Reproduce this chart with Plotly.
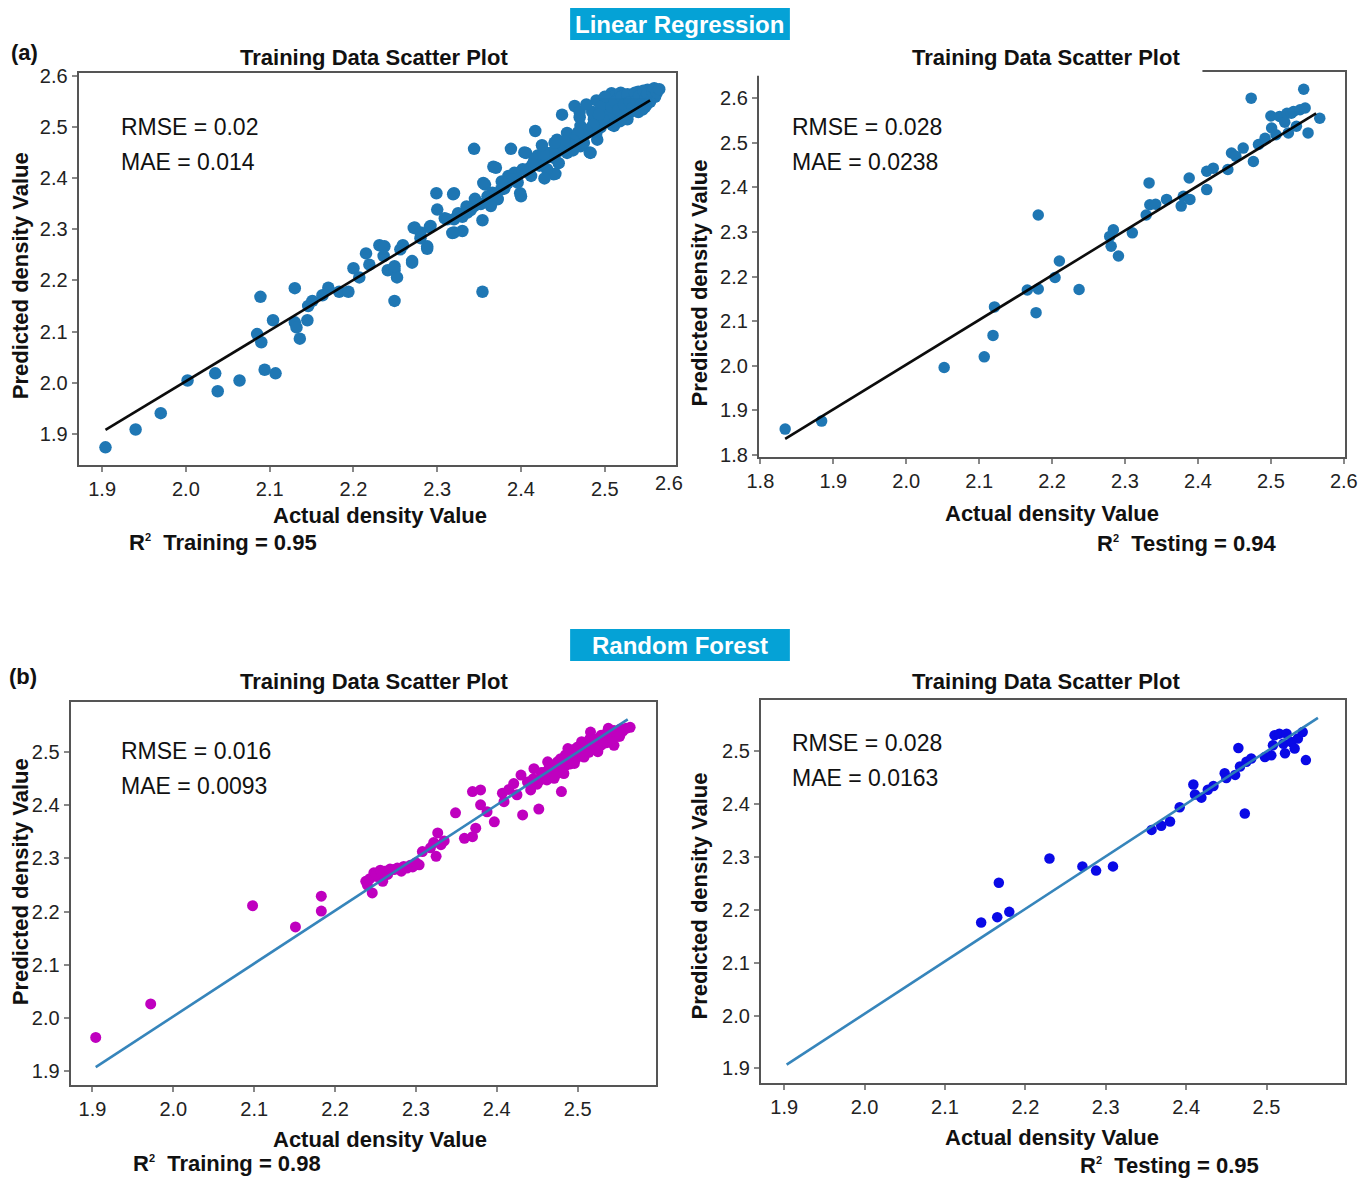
import plotly.graph_objects as go

W, H = 1358, 1178

# ---------------- data ----------------
lr_train_x = [1.904, 1.940, 1.970, 2.002, 2.035, 2.038, 2.064, 2.089, 2.085, 2.090, 2.094, 2.107, 2.104,
              2.130, 2.130, 2.132, 2.136, 2.145, 2.146, 2.151, 2.163, 2.170, 2.183, 2.194, 2.200, 2.207,
              2.215, 2.219, 2.231, 2.236, 2.241, 2.249, 2.252, 2.249, 2.259, 2.270, 2.273, 2.280, 2.288,
              2.291, 2.299, 2.300, 2.309, 2.320, 2.320, 2.330, 2.325, 2.344, 2.354, 2.354, 2.357, 2.367,
              2.372, 2.388, 2.399, 2.404, 2.417, 2.441, 2.449, 2.464, 2.482, 2.490, 2.508, 2.551,
              2.319, 2.370, 2.355, 2.406, 2.420, 2.400, 2.439, 2.483, 2.511, 2.519, 2.553, 2.539, 2.272,
              2.270, 2.237, 2.249, 2.292, 2.318, 2.288, 2.320, 2.344, 2.372, 2.384, 2.392, 2.416, 2.431,
              2.443, 2.455, 2.471, 2.487, 2.503, 2.519, 2.535, 2.547, 2.491, 2.511, 2.527, 2.471, 2.455,
              2.431, 2.412, 2.376, 2.364, 2.336, 2.312, 2.280, 2.256,
              2.500, 2.515, 2.530, 2.540, 2.545, 2.555, 2.560, 2.525, 2.505, 2.495, 2.480, 2.465, 2.460,
              2.450, 2.440, 2.425, 2.410, 2.395, 2.385, 2.380, 2.360, 2.345, 2.335, 2.500, 2.520, 2.535,
              2.550, 2.560, 2.512, 2.475, 2.470, 2.485, 2.495, 2.445, 2.428, 2.462, 2.490, 2.530, 2.545,
              2.505, 2.508, 2.512, 2.516, 2.520, 2.523, 2.527, 2.530, 2.533, 2.536, 2.538, 2.541, 2.543,
              2.546, 2.549, 2.551, 2.554, 2.557, 2.559, 2.562, 2.548, 2.540, 2.527, 2.518, 2.509, 2.498,
              2.493, 2.486, 2.478, 2.474, 2.468, 2.462, 2.457, 2.452, 2.447, 2.438, 2.433, 2.427, 2.422,
              2.414, 2.408, 2.402, 2.396, 2.390, 2.382, 2.377, 2.366, 2.352, 2.340, 2.330, 2.565, 2.470,
              2.478, 2.440, 2.425]
lr_train_y = [1.873, 1.908, 1.940, 2.004, 2.018, 1.983, 2.004, 2.168, 2.095, 2.079, 2.025, 2.018, 2.122,
              2.185, 2.118, 2.108, 2.086, 2.122, 2.150, 2.160, 2.171, 2.186, 2.178, 2.178, 2.224, 2.206,
              2.253, 2.231, 2.269, 2.248, 2.220, 2.220, 2.206, 2.160, 2.269, 2.238, 2.304, 2.283, 2.262,
              2.304, 2.371, 2.339, 2.322, 2.371, 2.294, 2.297, 2.332, 2.458, 2.178, 2.318, 2.388, 2.423,
              2.360, 2.458, 2.371, 2.451, 2.493, 2.409, 2.525, 2.542, 2.451, 2.553, 2.567, 2.574,
              2.369, 2.421, 2.391, 2.450, 2.445, 2.365, 2.408, 2.450, 2.561, 2.568, 2.573, 2.535, 2.303,
              2.235, 2.267, 2.228, 2.307, 2.293, 2.267, 2.320, 2.346, 2.359, 2.391, 2.411, 2.437, 2.450,
              2.476, 2.489, 2.503, 2.516, 2.529, 2.542, 2.555, 2.561, 2.476, 2.503, 2.516, 2.463, 2.450,
              2.418, 2.405, 2.378, 2.346, 2.333, 2.320, 2.294, 2.261,
              2.545, 2.555, 2.560, 2.570, 2.550, 2.565, 2.575, 2.548, 2.510, 2.500, 2.490, 2.480, 2.470,
              2.460, 2.440, 2.430, 2.420, 2.400, 2.405, 2.380, 2.365, 2.360, 2.345, 2.560, 2.530, 2.540,
              2.545, 2.560, 2.520, 2.470, 2.520, 2.530, 2.540, 2.430, 2.400, 2.455, 2.490, 2.530, 2.535,
              2.525, 2.540, 2.550, 2.535, 2.560, 2.545, 2.565, 2.550, 2.538, 2.568, 2.552, 2.562, 2.545,
              2.572, 2.558, 2.566, 2.550, 2.570, 2.577, 2.568, 2.540, 2.530, 2.525, 2.512, 2.505, 2.515,
              2.525, 2.505, 2.495, 2.485, 2.490, 2.475, 2.468, 2.472, 2.455, 2.452, 2.442, 2.448, 2.425,
              2.428, 2.412, 2.418, 2.392, 2.398, 2.388, 2.394, 2.372, 2.350, 2.338, 2.325, 2.575, 2.530,
              2.545, 2.470, 2.465]
lr_train_line_x = [1.904, 2.554]
lr_train_line_y = [1.907, 2.553]

lr_test_x = [1.834, 1.884, 2.052, 2.107, 2.119, 2.121, 2.166, 2.178, 2.181, 2.181, 2.204, 2.210, 2.237,
             2.279, 2.281, 2.284, 2.291, 2.310, 2.329, 2.333, 2.334, 2.342, 2.357, 2.377, 2.380, 2.388,
             2.389, 2.412, 2.412, 2.421, 2.441, 2.446, 2.452, 2.462, 2.473, 2.476, 2.483, 2.492, 2.500,
             2.501, 2.507, 2.512, 2.519, 2.522, 2.524, 2.528, 2.531, 2.535, 2.540, 2.545, 2.547, 2.551,
             2.567]
lr_test_y = [1.858, 1.876, 1.996, 2.020, 2.068, 2.132, 2.170, 2.119, 2.172, 2.338, 2.198, 2.235, 2.171,
             2.290, 2.268, 2.305, 2.246, 2.298, 2.338, 2.410, 2.361, 2.362, 2.373, 2.358, 2.380, 2.421,
             2.373, 2.395, 2.436, 2.443, 2.440, 2.477, 2.470, 2.488, 2.600, 2.458, 2.496, 2.510, 2.560,
             2.533, 2.518, 2.559, 2.546, 2.566, 2.522, 2.566, 2.570, 2.537, 2.574, 2.620, 2.578, 2.522,
             2.555]
lr_test_line_x = [1.834, 2.562]
lr_test_line_y = [1.836, 2.566]

rf_train_x = [1.904, 1.972, 2.098, 2.151, 2.183, 2.183, 2.238, 2.246, 2.248, 2.259, 2.261, 2.254, 2.273,
              2.289, 2.304, 2.308, 2.325, 2.327, 2.331, 2.349, 2.360, 2.370, 2.374, 2.370, 2.380, 2.380,
              2.388, 2.397, 2.407, 2.409, 2.421, 2.430, 2.432, 2.438, 2.442, 2.446, 2.452, 2.454, 2.463,
              2.467, 2.471, 2.479, 2.480, 2.483, 2.488, 2.496, 2.496, 2.508, 2.512, 2.516, 2.525, 2.529,
              2.541, 2.545, 2.545, 2.553, 2.565,
              2.240, 2.252, 2.265, 2.282, 2.296, 2.318, 2.322, 2.335, 2.415, 2.425, 2.458, 2.475, 2.490,
              2.500, 2.505, 2.520, 2.535, 2.538, 2.550, 2.530, 2.518, 2.485,
              2.445, 2.450, 2.457, 2.462, 2.466, 2.470, 2.474, 2.478, 2.482, 2.487, 2.491, 2.494, 2.498,
              2.502, 2.506, 2.510, 2.514, 2.517, 2.522, 2.525, 2.528, 2.532, 2.536, 2.540, 2.543, 2.548,
              2.552, 2.556, 2.560, 2.515, 2.505, 2.495, 2.485, 2.475, 2.465, 2.455,
              2.243, 2.250, 2.256, 2.268, 2.277, 2.285, 2.293, 2.300]
rf_train_y = [1.963, 2.026, 2.211, 2.171, 2.229, 2.201, 2.257, 2.235, 2.273, 2.257, 2.276, 2.274, 2.279,
              2.282, 2.288, 2.313, 2.304, 2.348, 2.326, 2.386, 2.338, 2.341, 2.357, 2.426, 2.429, 2.401,
              2.388, 2.369, 2.423, 2.407, 2.441, 2.457, 2.382, 2.444, 2.429, 2.469, 2.393, 2.448, 2.482,
              2.476, 2.451, 2.488, 2.426, 2.460, 2.507, 2.501, 2.479, 2.491, 2.519, 2.538, 2.501, 2.532,
              2.522, 2.541, 2.513, 2.544, 2.547,
              2.250, 2.266, 2.270, 2.276, 2.284, 2.320, 2.330, 2.333, 2.430, 2.420, 2.462, 2.470, 2.492,
              2.510, 2.520, 2.525, 2.535, 2.545, 2.530, 2.515, 2.505, 2.475,
              2.450, 2.440, 2.455, 2.448, 2.462, 2.465, 2.460, 2.475, 2.470, 2.483, 2.478, 2.495, 2.488,
              2.500, 2.495, 2.508, 2.500, 2.515, 2.510, 2.522, 2.512, 2.525, 2.518, 2.530, 2.525, 2.536,
              2.530, 2.540, 2.545, 2.525, 2.512, 2.505, 2.495, 2.482, 2.472, 2.462,
              2.262, 2.270, 2.278, 2.280, 2.282, 2.285, 2.287, 2.292]
rf_train_line_x = [1.904, 2.562]
rf_train_line_y = [1.907, 2.562]

rf_test_x = [2.145, 2.165, 2.167, 2.180, 2.230, 2.271, 2.288, 2.309, 2.357, 2.369, 2.380, 2.392, 2.409,
             2.411, 2.419, 2.427, 2.434, 2.448, 2.450, 2.461, 2.465, 2.467, 2.473, 2.475, 2.481, 2.498,
             2.506, 2.508, 2.510, 2.516, 2.521, 2.523, 2.525, 2.531, 2.535, 2.539, 2.545, 2.549]
rf_test_y = [2.176, 2.186, 2.251, 2.196, 2.297, 2.282, 2.274, 2.282, 2.351, 2.359, 2.367, 2.394, 2.437,
             2.418, 2.412, 2.427, 2.434, 2.458, 2.449, 2.455, 2.506, 2.471, 2.382, 2.480, 2.486, 2.489,
             2.492, 2.511, 2.530, 2.533, 2.514, 2.496, 2.533, 2.517, 2.505, 2.524, 2.536, 2.483]
rf_test_line_x = [1.903, 2.564]
rf_test_line_y = [1.907, 2.563]

tick_vals_a = [1.9, 2.0, 2.1, 2.2, 2.3, 2.4, 2.5, 2.6]
tick_vals_b = [1.8, 1.9, 2.0, 2.1, 2.2, 2.3, 2.4, 2.5, 2.6]
tick_vals_c = [1.9, 2.0, 2.1, 2.2, 2.3, 2.4, 2.5]

metrics = [("RMSE = 0.02", "MAE = 0.014"), ("RMSE = 0.028", "MAE = 0.0238"),
           ("RMSE = 0.016", "MAE = 0.0093"), ("RMSE = 0.028", "MAE = 0.0163")]
SUP2 = "R<sup><span style='font-size:11px'>2</span></sup>\u00a0\u00a0"
r2_labels = [SUP2 + "Training = 0.95", SUP2 + "Testing = 0.94",
             SUP2 + "Training = 0.98", SUP2 + "Testing = 0.95"]
panel_title = "Training Data Scatter Plot"

# ---------------- layout helpers ----------------
# positions below are given in reference-image pixels; a small spread about the
# centre compensates the slight shrink seen in the captured page
CX, CY, SX, SY = 679.0, 589.0, 1 / 0.9834, 1 / 0.988

def px(x):
    return (CX + (x - CX) * SX) / W

def py(y):
    return 1 - (CY + (y - CY) * SY) / H

FONT = "Liberation Sans, Arial, sans-serif"

fig = go.Figure()

panels = [
    dict(x=lr_train_x, y=lr_train_y, lx=lr_train_line_x, ly=lr_train_line_y, color="#1f77b4", size=12.5,
         lcolor="black", box=(78, 676, 73, 466), xr=[1.872, 2.585], yr=[1.838, 2.607],
         xt=tick_vals_c, yt=tick_vals_a),
    dict(x=lr_test_x, y=lr_test_y, lx=lr_test_line_x, ly=lr_test_line_y, color="#1f77b4", size=11.5,
         lcolor="black", box=(759, 1346, 72, 458), xr=[1.798, 2.602], yr=[1.795, 2.659],
         xt=tick_vals_b, yt=tick_vals_b),
    dict(x=rf_train_x, y=rf_train_y, lx=rf_train_line_x, ly=rf_train_line_y, color="#bf00bf", size=11,
         lcolor="#2c7fb8", box=(70, 656, 703, 1087), xr=[1.873, 2.597], yr=[1.873, 2.595],
         xt=tick_vals_c, yt=tick_vals_c),
    dict(x=rf_test_x, y=rf_test_y, lx=rf_test_line_x, ly=rf_test_line_y, color="#0a0ae6", size=10.5,
         lcolor="#2c7fb8", box=(761, 1346, 701, 1085), xr=[1.871, 2.598], yr=[1.872, 2.597],
         xt=tick_vals_c, yt=tick_vals_c),
]

for i, p in enumerate(panels):
    n = "" if i == 0 else str(i + 1)
    fig.add_trace(go.Scatter(x=p["x"], y=p["y"], mode="markers", xaxis="x" + n, yaxis="y" + n,
                             marker=dict(color=p["color"], size=p["size"], line=dict(width=0)),
                             showlegend=False))
    fig.add_trace(go.Scatter(x=p["lx"], y=p["ly"], mode="lines", xaxis="x" + n, yaxis="y" + n,
                             line=dict(color=p["lcolor"], width=2.6), opacity=0.95, showlegend=False))
    l, r, t, b = p["box"]
    common = dict(showgrid=False, zeroline=False, showline=True, mirror=True, linecolor="#555555",
                  linewidth=2, ticks="outside", ticklen=5, tickwidth=1.5, tickcolor="#888888",
                  tickfont=dict(family=FONT, size=20, color="#222222"), tickformat=".1f",
                  ticklabeloverflow="allow")
    fig.layout["xaxis" + n] = dict(domain=[px(l), px(r)], range=p["xr"], tickvals=p["xt"],
                                   anchor="y" + n, **common)
    fig.layout["yaxis" + n] = dict(domain=[py(b), py(t)], range=p["yr"], tickvals=p["yt"],
                                   anchor="x" + n, **common)

ann = []
def text(x, y, s, size, bold=False, color="#111111", xanchor="center", angle=0):
    ann.append(dict(x=px(x), y=py(y), xref="paper", yref="paper", text=("<b>%s</b>" % s) if bold else s,
                    showarrow=False, xanchor=xanchor, yanchor="middle", textangle=angle,
                    font=dict(family=FONT, size=size, color=color)))

# badges
shapes = []
for (yt, yb, label) in [(8, 40, "Linear Regression"), (630, 662, "Random Forest")]:
    shapes.append(dict(type="rect", xref="paper", yref="paper", x0=px(570), x1=px(790), y0=py(yb), y1=py(yt),
                       fillcolor="#05a2d6", line=dict(width=0), layer="above"))
    text(680, (yt + yb) / 2 + 1, label, 24, bold=True, color="white")

# hide part of panel 2 top frame under its title (as in the reference)
shapes.append(dict(type="rect", xref="paper", yref="paper", x0=px(756), x1=px(1203), y0=py(76), y1=py(68),
                   fillcolor="white", line=dict(width=0), layer="above"))

text(8, 53, "(a)", 22, bold=True, xanchor="left")
text(6, 678, "(b)", 22, bold=True, xanchor="left")

for cx, cy in [(374, 58), (1046, 58), (374, 683), (1046, 683)]:
    text(cx, cy, panel_title, 22, bold=True)

for cx, cy in [(20, 276), (700, 283), (20, 883), (700, 897)]:
    text(cx, cy, "Predicted density Value", 22, bold=True, angle=-90)

for cx, cy in [(380, 516), (1052, 514), (380, 1141), (1052, 1139)]:
    text(cx, cy, "Actual density Value", 22, bold=True)

for (lx, ly), s in zip([(126, 543), (1095, 544), (130, 1165), (1078, 1167)], r2_labels):
    text(lx, ly, s, 22, bold=True, xanchor="left")

for (lx, ly), (m1, m2) in zip([(118, 127), (790, 127), (118, 752), (790, 744)], metrics):
    text(lx, ly, m1, 23, xanchor="left")
    text(lx, ly + 35, m2, 23, xanchor="left")

# stray right-edge tick label of panel (a) training plot
text(669, 484, "2.6", 20, color="#222222")

fig.update_layout(width=W, height=H, margin=dict(l=0, r=0, t=0, b=0), paper_bgcolor="white",
                  plot_bgcolor="white", annotations=ann, shapes=shapes, showlegend=False)

fig.write_html("out.html", config={"displayModeBar": False},
               post_script="document.body.style.margin='0px';document.body.style.overflow='hidden';")
